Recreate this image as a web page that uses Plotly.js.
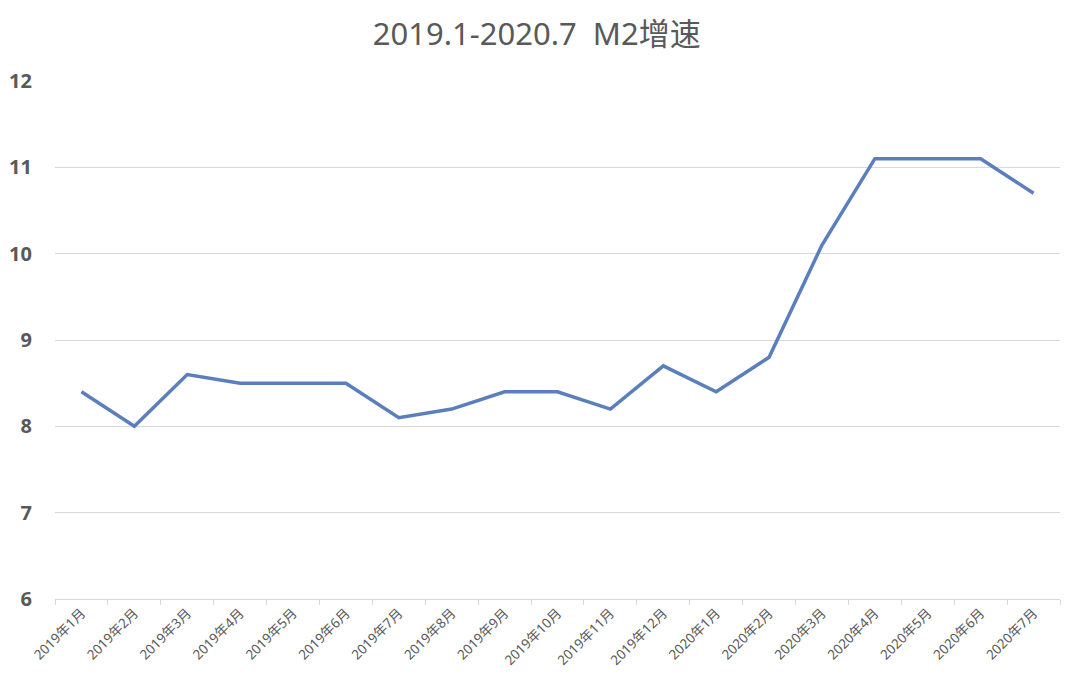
<!DOCTYPE html>
<html>
<head>
<meta charset="utf-8">
<script src="https://cdn.plot.ly/plotly-3.0.1.min.js"></script>
<style>html,body{margin:0;padding:0;background:#fff;}#chart{width:1080px;height:688px;}</style>
</head>
<body>
<div id="chart"></div>
<script>
const categories = ["2019年1月","2019年2月","2019年3月","2019年4月","2019年5月","2019年6月","2019年7月","2019年8月","2019年9月","2019年10月","2019年11月","2019年12月","2020年1月","2020年2月","2020年3月","2020年4月","2020年5月","2020年6月","2020年7月"];
const m2Growth = [8.4, 8.0, 8.6, 8.5, 8.5, 8.5, 8.1, 8.2, 8.4, 8.4, 8.2, 8.7, 8.4, 8.8, 10.1, 11.1, 11.1, 11.1, 10.7];
const titleText = "2019.1-2020.7  M2增速";

const fontFam = "'Noto Sans', 'Noto Sans CJK SC', sans-serif";
Plotly.newPlot('chart', [{
  x: categories,
  y: m2Growth,
  type: 'scatter',
  mode: 'lines',
  line: {color: '#5B7EBD', width: 3.5},
  hoverinfo: 'x+y'
}], {
  width: 1080, height: 688,
  margin: {l: 55, r: 20, t: 81, b: 89},
  paper_bgcolor: '#fff', plot_bgcolor: '#fff',
  showlegend: false,
  title: {text: titleText, x: 0.497, xanchor: 'center', y: 0.95, yanchor: 'middle',
          font: {family: fontFam, size: 31, color: '#595959'}},
  xaxis: {
    type: 'category',
    range: [-0.5, 18.5],
    tickangle: -45,
    ticks: 'outside', tickson: 'boundaries', ticklen: 5, tickcolor: '#d9d9d9',
    showline: true, linecolor: '#d9d9d9', linewidth: 1,
    showgrid: false, zeroline: false,
    tickfont: {family: fontFam, size: 13.5, color: '#595959'}
  },
  yaxis: {
    range: [6, 12], dtick: 1, tick0: 6,
    showgrid: true, gridcolor: '#d9d9d9', gridwidth: 1,
    zeroline: false, showline: false, ticks: '',
    ticklabelstandoff: 22,
    tickfont: {family: fontFam, size: 20, color: '#595959', weight: 'bold'}
  }
}, {displayModeBar: false, staticPlot: true});
</script>
</body>
</html>
